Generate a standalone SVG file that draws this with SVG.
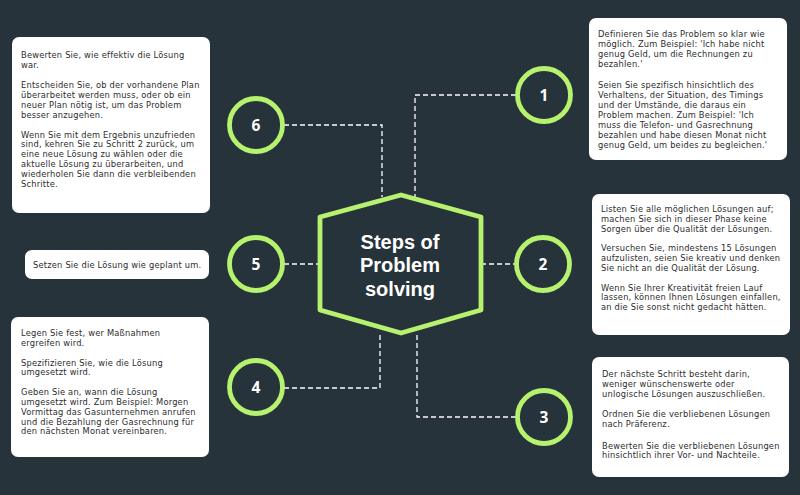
<svg xmlns="http://www.w3.org/2000/svg" width="800" height="495" viewBox="0 0 800 495">
<style>
.bg{fill:#27333b}
.box{fill:#ffffff}
.t{font-family:"DejaVu Sans","Liberation Sans",sans-serif;font-size:8.3px;letter-spacing:0.2px;fill:#2d2d2d}
.ring{fill:none;stroke:#b6f26e;stroke-width:4.8}
.num{font-family:"Open Sans","Liberation Sans",sans-serif;font-size:15.5px;font-weight:bold;fill:#ffffff;text-anchor:middle}
.title{font-family:"Liberation Sans",Arial,sans-serif;font-size:20px;font-weight:bold;fill:#ffffff;text-anchor:middle}
.con{fill:none;stroke:#ffffff;stroke-width:1.3;stroke-dasharray:5 3}
</style>
<rect class="bg" x="0" y="0" width="800" height="495"/>
<g id="connectors">
<path class="con" d="M284 125 H382 V197"/>
<path class="con" d="M516 95 H415 V199"/>
<path class="con" d="M284 264 H320"/>
<path class="con" d="M481 264 H516"/>
<path class="con" d="M284 388 H380 V332"/>
<path class="con" d="M516 417 H417 V332"/>
</g>
<g id="center">
<path d="M401 195 L481 217 L481 310 L401 333 L320 310 L320 217 Z" fill="#27333b" stroke="#b6f26e" stroke-width="4.8" stroke-linejoin="round"/>
<text class="title" x="400" y="248.5">Steps of</text>
<text class="title" x="400" y="272">Problem</text>
<text class="title" x="400" y="295.5">solving</text>
</g>
<g id="step1">
<circle class="ring" cx="544" cy="95" r="26.5"/>
<text class="num" x="544" y="100.5">1</text>
</g>
<g id="step2">
<circle class="ring" cx="543" cy="264" r="26.5"/>
<text class="num" x="543" y="269.5">2</text>
</g>
<g id="step3">
<circle class="ring" cx="544" cy="417" r="26.5"/>
<text class="num" x="544" y="422.5">3</text>
</g>
<g id="step4">
<circle class="ring" cx="256" cy="387" r="26.5"/>
<text class="num" x="256" y="392.5">4</text>
</g>
<g id="step5">
<circle class="ring" cx="256" cy="264" r="26.5"/>
<text class="num" x="256" y="269.5">5</text>
</g>
<g id="step6">
<circle class="ring" cx="256" cy="125" r="26.5"/>
<text class="num" x="256" y="130.5">6</text>
</g>
<g id="box1">
<rect class="box" x="589" y="18" width="198" height="142" rx="7"/>
<text class="t">
<tspan x="598" y="36.7">Definieren Sie das Problem so klar wie</tspan>
<tspan x="598" y="46.7">möglich. Zum Beispiel: 'Ich habe nicht</tspan>
<tspan x="598" y="56.7">genug Geld, um die Rechnungen zu</tspan>
<tspan x="598" y="66.7">bezahlen.'</tspan>
<tspan x="598" y="88">Seien Sie spezifisch hinsichtlich des</tspan>
<tspan x="598" y="98">Verhaltens, der Situation, des Timings</tspan>
<tspan x="598" y="108">und der Umstände, die daraus ein</tspan>
<tspan x="598" y="118">Problem machen. Zum Beispiel: 'Ich</tspan>
<tspan x="598" y="128">muss die Telefon- und Gasrechnung</tspan>
<tspan x="598" y="138">bezahlen und habe diesen Monat nicht</tspan>
<tspan x="598" y="148">genug Geld, um beides zu begleichen.'</tspan>
</text>
</g>
<g id="box2">
<rect class="box" x="592" y="194" width="198" height="141" rx="7"/>
<text class="t">
<tspan x="601" y="212.3">Listen Sie alle möglichen Lösungen auf;</tspan>
<tspan x="601" y="222.1">machen Sie sich in dieser Phase keine</tspan>
<tspan x="601" y="231.9">Sorgen über die Qualität der Lösungen.</tspan>
<tspan x="601" y="251.4">Versuchen Sie, mindestens 15 Lösungen</tspan>
<tspan x="601" y="261.2">aufzulisten, seien Sie kreativ und denken</tspan>
<tspan x="601" y="271">Sie nicht an die Qualität der Lösung.</tspan>
<tspan x="601" y="290.5">Wenn Sie Ihrer Kreativität freien Lauf</tspan>
<tspan x="601" y="300.3">lassen, können Ihnen Lösungen einfallen,</tspan>
<tspan x="601" y="310.1">an die Sie sonst nicht gedacht hätten.</tspan>
</text>
</g>
<g id="box3">
<rect class="box" x="592" y="357" width="197" height="120" rx="7"/>
<text class="t">
<tspan x="602" y="377">Der nächste Schritt besteht darin,</tspan>
<tspan x="602" y="386.8">weniger wünschenswerte oder</tspan>
<tspan x="602" y="396.6">unlogische Lösungen auszuschließen.</tspan>
<tspan x="602" y="417.2">Ordnen Sie die verbliebenen Lösungen</tspan>
<tspan x="602" y="427">nach Präferenz.</tspan>
<tspan x="602" y="448.5">Bewerten Sie die verbliebenen Lösungen</tspan>
<tspan x="602" y="458.3">hinsichtlich ihrer Vor- und Nachteile.</tspan>
</text>
</g>
<g id="box4">
<rect class="box" x="11" y="317" width="198" height="140" rx="7"/>
<text class="t">
<tspan x="21" y="336">Legen Sie fest, wer Maßnahmen</tspan>
<tspan x="21" y="345.8">ergreifen wird.</tspan>
<tspan x="21" y="365.5">Spezifizieren Sie, wie die Lösung</tspan>
<tspan x="21" y="375.3">umgesetzt wird.</tspan>
<tspan x="21" y="395.2">Geben Sie an, wann die Lösung</tspan>
<tspan x="21" y="405">umgesetzt wird. Zum Beispiel: Morgen</tspan>
<tspan x="21" y="414.8">Vormittag das Gasunternehmen anrufen</tspan>
<tspan x="21" y="424.6">und die Bezahlung der Gasrechnung für</tspan>
<tspan x="21" y="434.4">den nächsten Monat vereinbaren.</tspan>
</text>
</g>
<g id="box5">
<rect class="box" x="25" y="250" width="184" height="29" rx="7"/>
<text class="t" x="33" y="267.5">Setzen Sie die Lösung wie geplant um.</text>
</g>
<g id="box6">
<rect class="box" x="12" y="37" width="198" height="176" rx="7"/>
<text class="t">
<tspan x="21" y="58.3">Bewerten Sie, wie effektiv die Lösung</tspan>
<tspan x="21" y="68.2">war.</tspan>
<tspan x="21" y="88">Entscheiden Sie, ob der vorhandene Plan</tspan>
<tspan x="21" y="97.9">überarbeitet werden muss, oder ob ein</tspan>
<tspan x="21" y="107.8">neuer Plan nötig ist, um das Problem</tspan>
<tspan x="21" y="117.7">besser anzugehen.</tspan>
<tspan x="21" y="137.5">Wenn Sie mit dem Ergebnis unzufrieden</tspan>
<tspan x="21" y="147.4">sind, kehren Sie zu Schritt 2 zurück, um</tspan>
<tspan x="21" y="157.3">eine neue Lösung zu wählen oder die</tspan>
<tspan x="21" y="167.2">aktuelle Lösung zu überarbeiten, und</tspan>
<tspan x="21" y="177.1">wiederholen Sie dann die verbleibenden</tspan>
<tspan x="21" y="187">Schritte.</tspan>
</text>
</g>
</svg>
